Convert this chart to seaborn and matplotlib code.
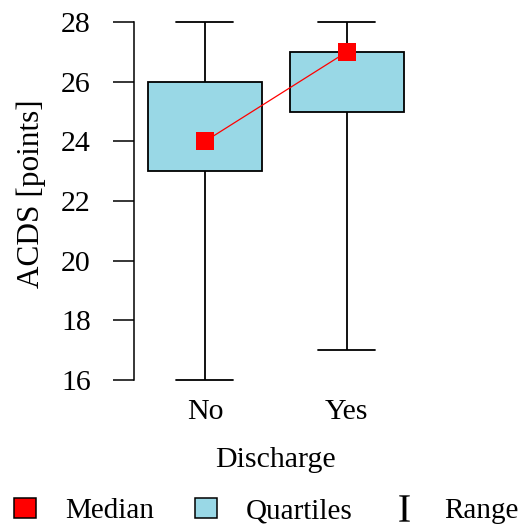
import numpy as np
import pandas as pd
import matplotlib
matplotlib.use("Agg")
import matplotlib.pyplot as plt
from matplotlib.patches import Patch
from matplotlib.lines import Line2D
import seaborn as sns

# five-number summaries
groups = ["No", "Yes"]
mins = [16, 17]
q1s = [23, 25]
medians = [24, 27]
q3s = [26, 27]
maxs = [28, 28]

rows = []
for g, a, b, c, d, e in zip(groups, mins, q1s, medians, q3s, maxs):
    for v in (a, b, c, d, e):
        rows.append({"Discharge": g, "ACDS": v})
df = pd.DataFrame(rows)

sns.set_style("white")
plt.rcParams["font.family"] = ["Liberation Serif", "DejaVu Serif"]
plt.rcParams["mathtext.fontset"] = "custom"
plt.rcParams["mathtext.rm"] = "Liberation Serif"
for k in ["text.color", "axes.labelcolor", "xtick.color", "ytick.color"]:
    plt.rcParams[k] = "black"
fs = 21.5

fig = plt.figure(figsize=(5.19, 5.27), dpi=100)
ax = fig.add_axes([0.258, 0.2505, 0.547, 0.736])

sns.boxplot(data=df, x="Discharge", y="ACDS", order=groups, whis=np.inf,
            width=0.8, color="#99d8e6", saturation=1, linewidth=1.3,
            linecolor="black", medianprops={"linewidth": 0}, ax=ax)
sns.pointplot(data=df, x="Discharge", y="ACDS", order=groups, estimator="median",
              errorbar=None, color="red", markers="s", linestyles="-",
              linewidth=0.9, markersize=13, markeredgewidth=0, ax=ax)

ax.set_xlim(-0.5, 1.5)
ax.set_ylim(15.5, 28.5)
ax.set_yticks([16, 18, 20, 22, 24, 26, 28])
for s in ["top", "right", "bottom"]:
    ax.spines[s].set_visible(False)
ax.spines["left"].set_bounds(16, 28)
ax.spines["left"].set_linewidth(1.1)
ax.spines["left"].set_color("black")
ax.tick_params(axis="y", length=15, width=1.1, pad=16, labelsize=fs, left=True, color="black")
ax.tick_params(axis="x", length=0, pad=3, labelsize=fs)
ax.set_xlabel("Discharge", fontsize=fs, labelpad=16)
ax.set_ylabel("ACDS [points]", fontsize=22.5, labelpad=12)
ax.yaxis.set_label_coords(-0.31, 0.52)

handles = [
    Patch(facecolor="red", edgecolor="black", linewidth=1.1),
    Patch(facecolor="#99d8e6", edgecolor="black", linewidth=1.1),
    Line2D([], [], linestyle="none", marker=r"$\mathrm{I}$", color="black",
           markersize=19, markeredgewidth=0),
]
fig.legend(handles, ["Median", "Quartiles", "Range"], loc="lower center",
           bbox_to_anchor=(0.513, -0.045), ncol=3, frameon=False, fontsize=21,
           handlelength=0.75, handleheight=0.7, handletextpad=1.0, columnspacing=1.4)

fig.savefig("out.png", dpi=100)
